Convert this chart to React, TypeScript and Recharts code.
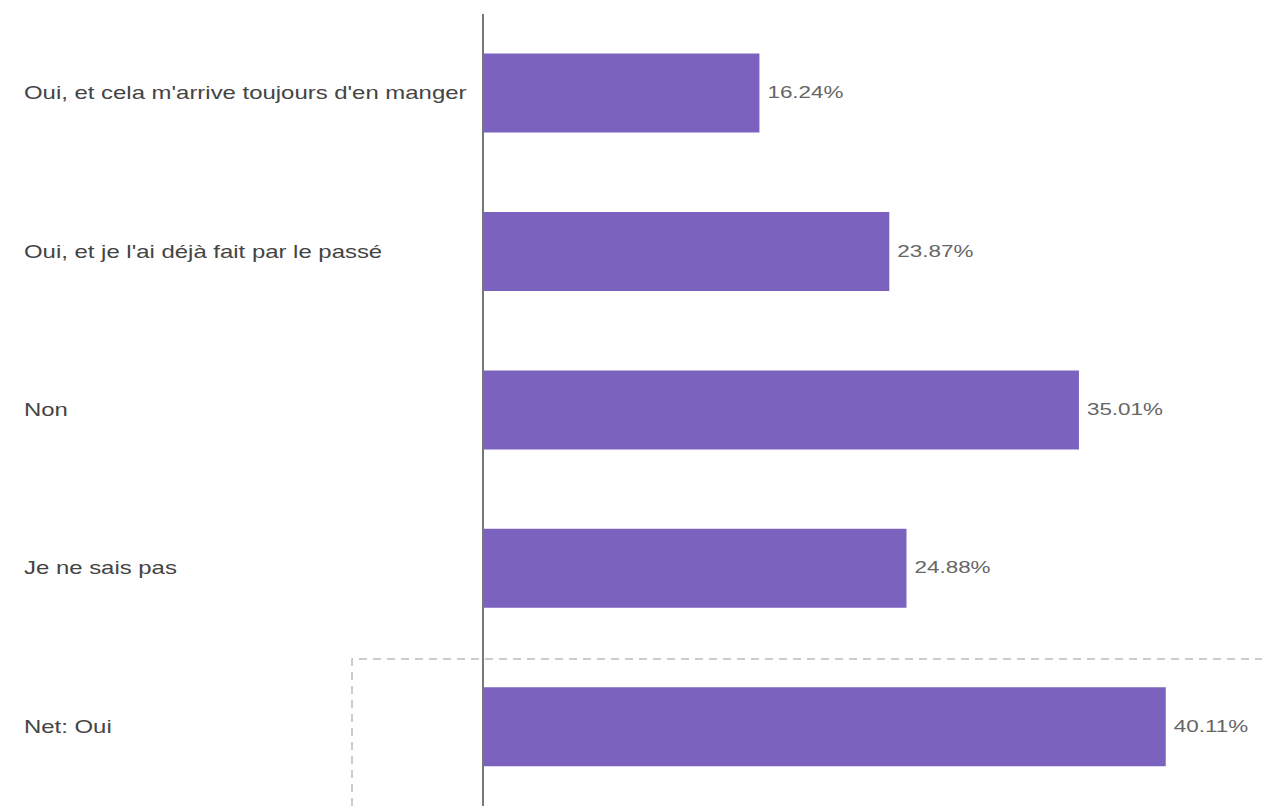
import React from 'react';
import { BarChart, Bar, XAxis, YAxis, LabelList } from 'recharts';

const categories = [
	"Oui, et cela m'arrive toujours d'en manger",
	"Oui, et je l'ai déjà fait par le passé",
	'Non',
	'Je ne sais pas',
	'Net: Oui',
];
const values = [16.24, 23.87, 35.01, 24.88, 40.11];

const data = categories.map((name, i) => ({ name, value: values[i] }));

const FONT = 'Liberation Sans, Arial, sans-serif';

// the source picture is stretched sideways, so the text is too
const CategoryTick = (props: any) => {
	const { y, payload } = props;
	return (
		<text
			transform={`translate(24,${y}) scale(1.33,1)`}
			dy={6}
			textAnchor="start"
			fill="#444"
			fontSize={18}
			fontFamily={FONT}
		>
			{payload.value}
		</text>
	);
};

const ValueLabel = (props: any) => {
	const { x, y, width, height, value } = props;
	return (
		<text
			transform={`translate(${x + width + 8},${y + height / 2}) scale(1.42,1)`}
			dy={5}
			textAnchor="start"
			fill="#666"
			fontSize={15.8}
			fontFamily={FONT}
		>
			{`${Number(value).toFixed(2)}%`}
		</text>
	);
};

const App: React.FC = () => {
	return (
		<div style={{ position: 'absolute', left: 0, top: 0, width: 1266, height: 806, background: '#fff' }}>
			<BarChart
				width={1266}
				height={806}
				data={data}
				layout="vertical"
				margin={{ top: 14, right: 0, bottom: 0, left: 0 }}
				barCategoryGap="25%"
			>
				<XAxis type="number" domain={[0, 46]} hide />
				<YAxis
					type="category"
					dataKey="name"
					width={483}
					tickLine={false}
					axisLine={{ stroke: '#777', strokeWidth: 2 }}
					tick={<CategoryTick />}
				/>
				<Bar dataKey="value" fill="#7a62be" isAnimationActive={false}>
					<LabelList dataKey="value" content={<ValueLabel />} />
				</Bar>
			</BarChart>
			<svg width={1266} height={806} style={{ position: 'absolute', left: 0, top: 0, pointerEvents: 'none' }}>
				<path d="M352 806 L352 659 L1262 659" fill="none" stroke="#bbb" strokeWidth={1.5} strokeDasharray="8 6" />
			</svg>
		</div>
	);
};

export default App;
